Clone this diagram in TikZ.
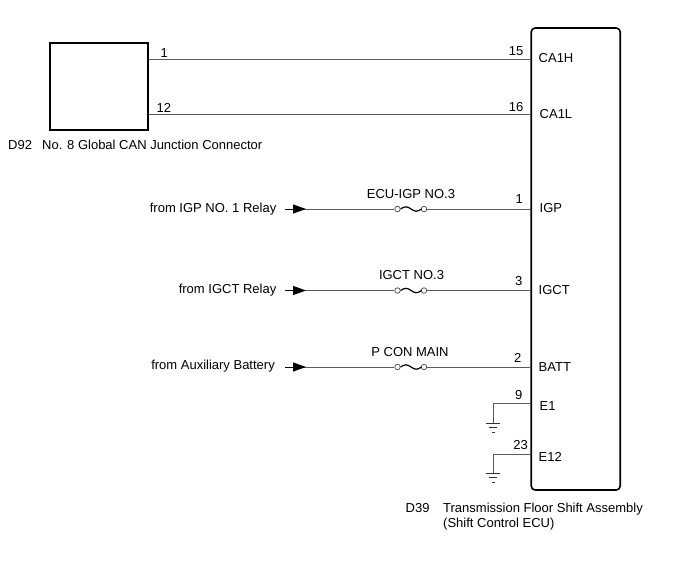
\documentclass[tikz,border=0pt]{standalone}
\usepackage{fontspec}
\setmainfont{Liberation Sans}
\usetikzlibrary{positioning, arrows.meta, calc}

\tikzset{
	pics/earth/.style={code={
		\draw[wire, draw=black!80] (-7,0) -- (7,0);
		\draw[wire, draw=black!80] (-4,4.5) -- (4,4.5);
		\draw[wire, draw=black!80] (-1.5,9) -- (1.5,9);
	}}
}

\begin{document}
\begin{tikzpicture}[x=1pt,y=-1pt,font=\fontsize{13}{15}\selectfont,
	wire/.style={draw=black!65, line width=0.9pt},
	box/.style={draw, line width=1.6pt, inner sep=0pt},
	feed/.style={draw, line width=0.9pt, -{Triangle[length=13pt,width=9pt]}},
	fuseend/.style={circle, draw=black!65, line width=0.8pt, fill=white, inner sep=0pt, minimum size=5.5pt},
	fusewave/.style={draw, line width=1.2pt},
	txt/.style={inner sep=0pt}]
	
	\useasboundingbox (0,0) rectangle (688,560);
	
	%Connectors
	\node[box, minimum width=98pt, minimum height=87pt] (d92) at (99,86.5) {};
	\node[box, rounded corners=4pt, minimum width=89pt, minimum height=462pt] (ecu) at (575.7,259) {};
	\node[txt, anchor=base west] (d92name) at (8,149) {D92\hspace{6.5pt} No. 8 Global CAN Junction Connector};
	\node[txt, anchor=base west] (d39no) at (405.5,512) {D39};
	\node[txt, anchor=base west] (d39name) at (443,512) {Transmission Floor Shift Assembly};
	\node[txt, anchor=base west] (d39sub) at (443,527) {(Shift Control ECU)};
	
	%ECU pins
	\coordinate (ca1h) at (ecu.west |- 0,59);
	\coordinate (ca1l) at (ecu.west |- 0,114.5);
	\coordinate (igp)  at (ecu.west |- 0,209);
	\coordinate (igct) at (ecu.west |- 0,290.5);
	\coordinate (batt) at (ecu.west |- 0,367);
	\coordinate (e1)   at (ecu.west |- 0,403);
	\coordinate (e12)  at (ecu.west |- 0,454);
	
	\node[txt, anchor=west] at (538.5,58.5) {CA1H};
	\node[txt, anchor=west] at (539.5,114) {CA1L};
	\node[txt, anchor=west] at (539.5,208.5) {IGP};
	\node[txt, anchor=west] at (538.5,290) {IGCT};
	\node[txt, anchor=west] at (538.5,367.5) {BATT};
	\node[txt, anchor=west] at (539.5,406) {E1};
	\node[txt, anchor=west] at (538.5,457) {E12};
	
	%CAN lines
	\draw[wire] (d92.east |- ca1h) -- (ca1h);
	\draw[wire] (d92.east |- ca1l) -- (ca1l);
	\node[txt, anchor=base west] at (160.5,57) {1};
	\node[txt, anchor=base west] at (156.5,112) {12};
	\node[txt, anchor=base east] at (523.5,55) {15};
	\node[txt, anchor=base east] at (523.5,111) {16};
	
	%Power feeds
	\coordinate (igpsrc)  at (285,209);
	\coordinate (igctsrc) at (285,290.5);
	\coordinate (battsrc) at (285,367);
	
	\node[fuseend] (f1a) at (397.5,209) {};
	\node[fuseend] (f1b) at (424,209) {};
	\node[fuseend] (f2a) at (397.5,290.5) {};
	\node[fuseend] (f2b) at (424,290.5) {};
	\node[fuseend] (f3a) at (397.5,367) {};
	\node[fuseend] (f3b) at (424,367) {};
	
	\draw[wire] (igpsrc) -- (f1a) (f1b) -- (igp);
	\draw[wire] (igctsrc) -- (f2a) (f2b) -- (igct);
	\draw[wire] (battsrc) -- (f3a) (f3b) -- (batt);
	\foreach \f in {f1,f2,f3}
		\draw[fusewave] (\f a.east) sin ++(5.2,-2.2) cos ++(5.2,2.2) sin ++(5.2,2.2) cos ++(5.2,-2.2);
	\draw[feed] (igpsrc) -- ++(21,0);
	\draw[feed] (igctsrc) -- ++(21,0);
	\draw[feed] (battsrc) -- ++(21,0);
	
	\node[txt, anchor=east] at (276.5,209) {from IGP NO. 1 Relay};
	\node[txt, anchor=east] at (276.5,290.5) {from IGCT Relay};
	\node[txt, anchor=east] at (275,366.5) {from Auxiliary Battery};
	\node[txt] at (411,194.5) {ECU-IGP NO.3};
	\node[txt] at (411.5,275.5) {IGCT NO.3};
	\node[txt] at (410,352.5) {P CON MAIN};
	\node[txt, anchor=base east] at (523,203) {1};
	\node[txt, anchor=base east] at (522.5,285) {3};
	\node[txt, anchor=base east] at (521.5,362) {2};
	
	%Grounds
	\draw[wire] (e1) -| (493,423) coordinate (g1);
	\draw[wire] (e12) -| (493,473) coordinate (g2);
	\pic at (g1) {earth};
	\pic at (g2) {earth};
	\node[txt, anchor=base east] at (522.5,399) {9};
	\node[txt, anchor=base east] at (528,449) {23};
	
\end{tikzpicture}
\end{document}
